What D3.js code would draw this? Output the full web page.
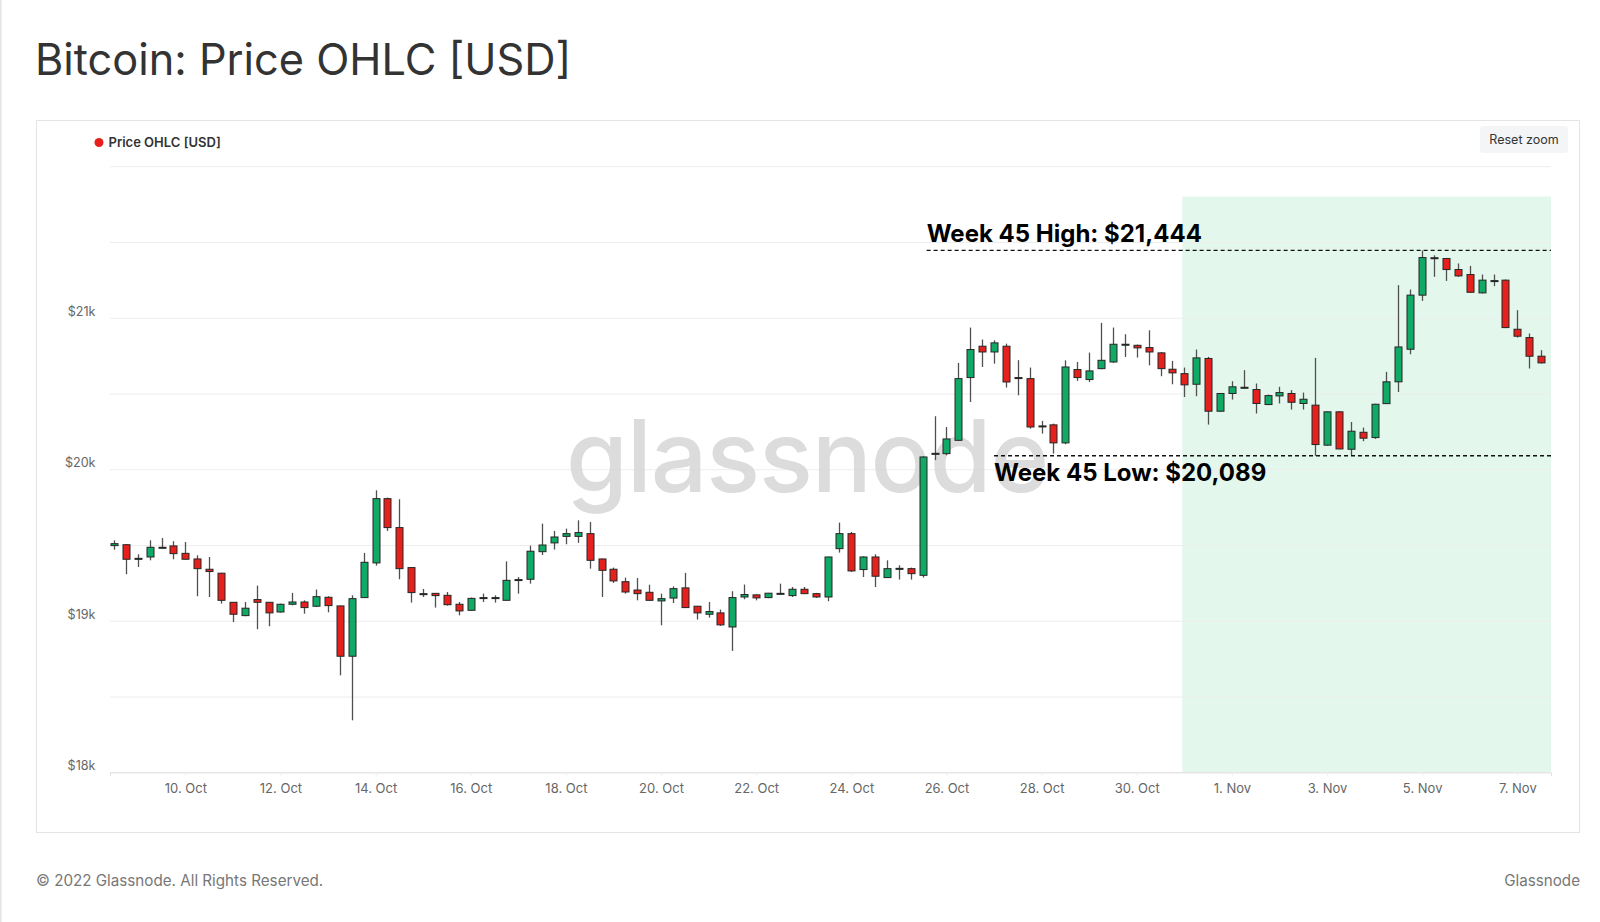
<!DOCTYPE html>
<html>
<head>
<meta charset="utf-8">
<script src="https://cdn.jsdelivr.net/npm/d3@7/dist/d3.min.js"></script>
<style>
  html, body { margin: 0; padding: 0; background: #fff; }
  svg { display: block; }
  text { font-family: Inter, "Noto Sans", sans-serif; }
</style>
</head>
<body>
<svg id="chart" width="1600" height="922"></svg>
<script>
// ---- Data (6h candles, Bitcoin Price OHLC [USD]) ----
const firstCandle = "2022-10-08T12:00:00Z";
const candleHours = 6;
const opens = [19496,19502,19408,19421,19483,19494,19445,19408,19340,19314,19122,19034,19140,19122,19058,19109,19124,19096,19155,19098,
  18766,19153,19382,19806,19615,19351,19175,19181,19168,19109,19069,19149,19150,19135,19268,19274,19456,19514,19557,19557,
  19575,19408,19340,19258,19203,19188,19131,19150,19217,19096,19043,19052,18959,19157,19171,19153,19178,19166,19208,19179,
  19157,19476,19575,19338,19421,19285,19342,19344,19300,20100,20103,20191,20605,20812,20774,20812,20601,20598,20282,20293,
  20174,20658,20592,20664,20708,20821,20818,20803,20768,20660,20631,20561,20731,20383,20500,20537,20526,20427,20484,20500,
  20434,20423,20159,20379,20132,20244,20209,20433,20577,20792,21149,21396,21391,21318,21285,21164,21241,21248,20924,20869,20746];
const highs = [19531,19505,19439,19531,19546,19525,19520,19432,19421,19316,19124,19124,19232,19124,19113,19184,19135,19206,19162,19100,
  19168,19448,19861,19813,19802,19355,19210,19183,19190,19124,19153,19179,19168,19392,19289,19496,19641,19593,19608,19663,
  19652,19410,19351,19285,19282,19238,19179,19227,19316,19098,19124,19074,19195,19239,19173,19184,19245,19223,19223,19184,
  19423,19648,19586,19426,19439,19399,19366,19351,20086,20350,20279,20702,20935,20856,20851,20829,20720,20671,20319,20301,
  20719,20708,20770,20966,20935,20891,20823,20917,20774,20715,20671,20790,20742,20502,20581,20654,20566,20493,20544,20522,
  20506,20735,20381,20383,20312,20275,20432,20643,21215,21186,21444,21412,21393,21358,21342,21285,21285,21252,21050,20896,20786];
const lows = [19469,19307,19355,19399,19478,19406,19404,19162,19157,19113,18992,19030,18944,18964,19054,19102,19047,19091,19056,18640,
  18343,19150,19364,19593,19274,19120,19157,19087,19100,19036,19067,19124,19120,19133,19179,19245,19434,19470,19505,19514,
  19344,19157,19250,19179,19135,19131,18970,19117,19085,19008,19021,18966,18801,19142,19135,19149,19173,19157,19177,19151,
  19129,19450,19322,19289,19223,19283,19272,19272,19285,20060,20092,20189,20444,20675,20697,20539,20488,20268,20235,20103,
  20165,20583,20576,20660,20702,20741,20737,20686,20614,20561,20477,20482,20295,20381,20460,20533,20368,20423,20434,20394,
  20394,20089,20155,20132,20092,20185,20200,20431,20510,20759,21111,21270,21243,21270,21164,21160,21208,20931,20869,20665,20698];
const closes = [19509,19406,19412,19485,19485,19443,19406,19344,19325,19135,19043,19083,19122,19052,19109,19124,19087,19159,19100,18766,
  19146,19386,19806,19615,19344,19186,19179,19166,19106,19065,19148,19153,19153,19267,19272,19459,19500,19553,19575,19582,
  19399,19333,19263,19190,19179,19135,19146,19212,19087,19052,19061,18973,19153,19173,19151,19182,19181,19208,19179,19157,
  19421,19575,19329,19421,19294,19344,19346,19311,20081,20105,20200,20598,20790,20774,20834,20576,20605,20279,20286,20174,
  20675,20605,20649,20719,20825,20825,20801,20774,20664,20636,20557,20735,20383,20500,20544,20541,20434,20486,20506,20442,
  20462,20163,20379,20134,20251,20205,20429,20577,20807,21149,21397,21393,21318,21276,21168,21248,21245,20935,20878,20746,20702];

const xDomain = ["2022-10-08T10:00:00Z", "2022-11-07T17:00:00Z"];
const yDomain = [18000, 22000];
const gridValues = [18000,18500,19000,19500,20000,20500,21000,21500,22000];
const yTickValues = [18000,19000,20000,21000];
const yTickLabels = ["$18k","$19k","$20k","$21k"];
const xTickDates = ["2022-10-10","2022-10-12","2022-10-14","2022-10-16","2022-10-18","2022-10-20","2022-10-22",
  "2022-10-24","2022-10-26","2022-10-28","2022-10-30","2022-11-01","2022-11-03","2022-11-05","2022-11-07"];
const weekBand = {start: "2022-10-30T23:00:00Z", end: "2022-11-07T17:00:00Z", top: 21800};
const weekHigh = {value: 21444, from: "2022-10-25T14:00:00Z", label: "Week 45 High: $21,444"};
const weekLow = {value: 20089, from: "2022-10-27T00:00:00Z", label: "Week 45 Low: $20,089"};

// ---- Layout ----
const plot = {left: 110, right: 1551, top: 166.2, bottom: 772.3};
const svg = d3.select("#chart");
const UP = "#10a965", DOWN = "#e6211d";

const t0 = Date.parse(firstCandle);
const candles = opens.map((o, i) => ({
  t: new Date(t0 + i * candleHours * 3600e3),
  o, h: highs[i], l: lows[i], c: closes[i]
}));

const x = d3.scaleUtc().domain(xDomain.map(d => new Date(d))).range([plot.left, plot.right]);
const y = d3.scaleLinear().domain(yDomain).range([plot.bottom, plot.top]);

// page left edge line
svg.append("rect").attr("x", 0).attr("y", 0).attr("width", 1.5).attr("height", 922).attr("fill", "#e3e3e3");

// title
svg.append("text").attr("x", 35).attr("y", 75)
  .attr("font-size", 43.3).attr("fill", "#333").text("Bitcoin: Price OHLC [USD]");

// chart box
svg.append("rect").attr("x", 36.5).attr("y", 120.5).attr("width", 1543).attr("height", 712)
  .attr("fill", "none").attr("stroke", "#e4e4e4");

// legend
svg.append("circle").attr("cx", 99).attr("cy", 142.5).attr("r", 4.5).attr("fill", DOWN);
svg.append("text").attr("x", 108.5).attr("y", 147).attr("font-size", 13).attr("font-weight", 600)
  .attr("fill", "#333").text("Price OHLC [USD]");

// reset zoom button
svg.append("rect").attr("x", 1480).attr("y", 126).attr("width", 88).attr("height", 27).attr("rx", 3)
  .attr("fill", "#f4f5f7");
svg.append("text").attr("x", 1524).attr("y", 144).attr("text-anchor", "middle")
  .attr("font-size", 12.5).attr("fill", "#333").text("Reset zoom");

// week band
svg.append("rect")
  .attr("x", x(new Date(weekBand.start))).attr("y", y(weekBand.top))
  .attr("width", x(new Date(weekBand.end)) - x(new Date(weekBand.start)))
  .attr("height", plot.bottom - y(weekBand.top))
  .attr("fill", "#e3f7ed");

// gridlines
svg.append("g").selectAll("line").data(gridValues).join("line")
  .attr("x1", plot.left).attr("x2", plot.right)
  .attr("y1", d => y(d) + 0.5).attr("y2", d => y(d) + 0.5)
  .attr("stroke", "#ededed").attr("stroke-width", 1);

// x axis
const xAxis = d3.axisBottom(x)
  .tickValues(xTickDates.map(d => new Date(d + "T00:00:00Z")))
  .tickFormat(d3.utcFormat("%-d. %b"))
  .tickSize(4).tickPadding(7);
const gx = svg.append("g").attr("transform", `translate(0,${plot.bottom})`).call(xAxis);
gx.select(".domain").attr("stroke", "#e2e2e2");
gx.selectAll(".tick line").attr("stroke", "#f0f0f0");
gx.selectAll(".tick text").attr("font-size", 13).attr("fill", "#666").attr("font-family", "Inter, sans-serif");

// y axis labels
const yAxis = d3.axisLeft(y).tickValues(yTickValues)
  .tickFormat((d, i) => yTickLabels[i]).tickSize(0).tickPadding(0);
const gy = svg.append("g").attr("transform", `translate(95.5,0)`).call(yAxis);
gy.select(".domain").remove();
gy.selectAll(".tick text").attr("font-size", 12.6).attr("fill", "#666")
  .attr("font-family", "Inter, sans-serif").attr("dy", "-0.2em");

// watermark
svg.append("text").attr("x", 807).attr("y", 492).attr("text-anchor", "middle")
  .attr("font-size", 100).attr("font-weight", 500).attr("fill", "#d6d6d6").attr("opacity", 0.85)
  .attr("letter-spacing", -1.2).text("glassnode");

// candles
const bw = 7;
const g = svg.append("g");
const cg = g.selectAll("g.c").data(candles).join("g").attr("class", "c");
cg.append("line")
  .attr("x1", d => Math.round(x(d.t)) + 0.5).attr("x2", d => Math.round(x(d.t)) + 0.5)
  .attr("y1", d => y(d.h)).attr("y2", d => y(d.l))
  .attr("stroke", "#505050").attr("stroke-width", 1.3);
cg.append("rect")
  .attr("x", d => Math.round(x(d.t)) + 0.5 - bw / 2)
  .attr("y", d => y(Math.max(d.o, d.c)))
  .attr("width", bw)
  .attr("height", d => Math.max(1, Math.abs(y(d.o) - y(d.c))))
  .attr("fill", d => d.c >= d.o ? UP : DOWN)
  .attr("stroke", "#262626").attr("stroke-width", 1);

// annotations
[weekHigh, weekLow].forEach(a => {
  svg.append("line")
    .attr("x1", x(new Date(a.from))).attr("x2", plot.right)
    .attr("y1", y(a.value)).attr("y2", y(a.value))
    .attr("stroke", "#111").attr("stroke-width", 1.3).attr("stroke-dasharray", "4,3");
});
svg.append("text").attr("x", x(new Date(weekHigh.from))).attr("y", y(weekHigh.value) - 8)
  .attr("font-size", 24).attr("font-weight", 700).attr("fill", "#000").text(weekHigh.label);
svg.append("text").attr("x", x(new Date(weekLow.from))).attr("y", y(weekLow.value) + 25)
  .attr("font-size", 24).attr("font-weight", 700).attr("fill", "#000").text(weekLow.label);

// footer
svg.append("text").attr("x", 36).attr("y", 886).attr("font-size", 15.2).attr("fill", "#777")
  .text("© 2022 Glassnode. All Rights Reserved.");
svg.append("text").attr("x", 1580).attr("y", 886).attr("text-anchor", "end").attr("font-size", 15.2)
  .attr("fill", "#777").text("Glassnode");
</script>
</body>
</html>
